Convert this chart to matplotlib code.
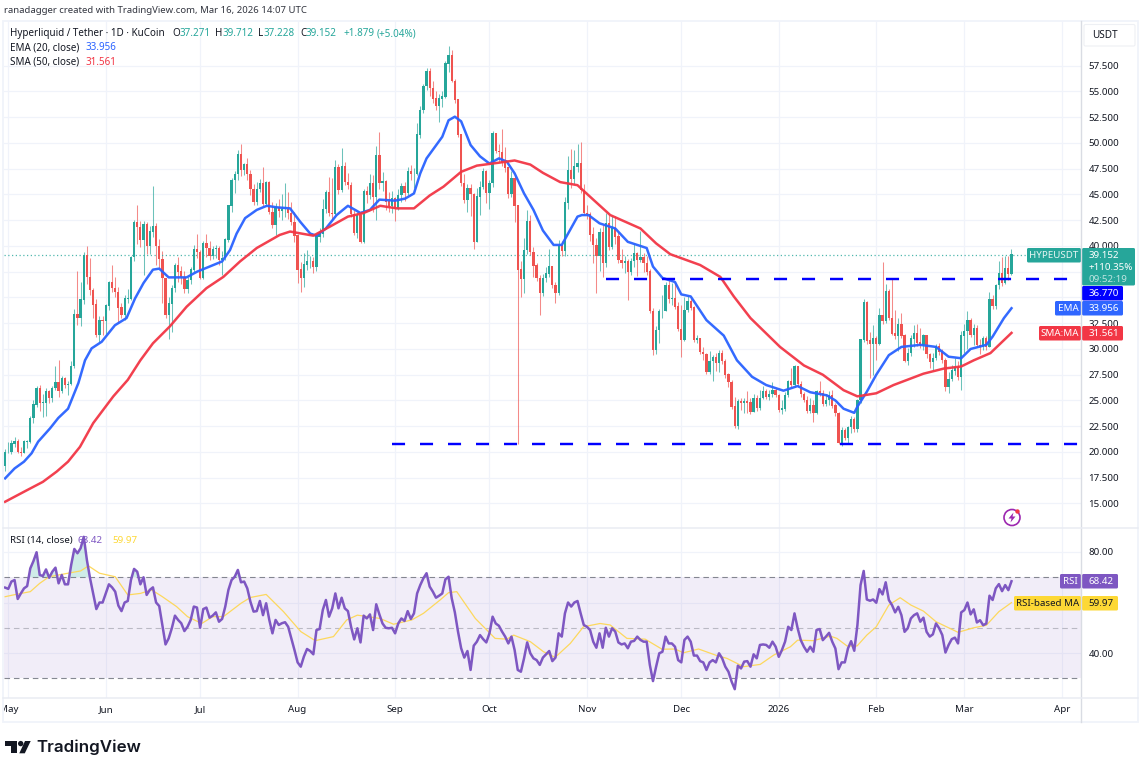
import numpy as np
import pandas as pd
import matplotlib
matplotlib.use("Agg")
import matplotlib.pyplot as plt
from matplotlib.patches import Rectangle, FancyBboxPatch, Polygon, Circle

plt.rcParams['font.family'] = ['Noto Sans', 'DejaVu Sans']

start_date = "2025-04-30"
first_open = 18.6
closes = [20.0,20.0,20.8,21.0,20.0,19.9,21.0,21.0,23.3,24.6,26.2,24.8,24.8,25.9,25.2,26.2,26.8,25.9,27.2,26.5,26.6,28.3,33.4,33.0,34.8,39.1,37.0,35.7,34.3,31.4,32.8,32.7,34.2,36.5,35.9,35.5,34.0,33.3,34.9,34.9,38.9,42.3,41.8,40.6,42.1,40.0,41.4,41.9,40.0,38.7,36.9,33.3,34.4,35.9,38.1,37.5,37.0,35.8,36.7,37.7,39.7,39.4,36.9,40.3,39.8,39.0,39.7,39.8,38.6,38.8,40.6,43.9,46.4,47.0,48.9,47.4,47.9,47.0,45.5,44.3,45.5,46.1,44.1,46.2,43.3,42.0,43.8,43.4,
43.6,43.6,43.2,42.3,41.0,37.7,36.9,38.2,38.5,38.5,38.0,40.9,41.2,43.6,45.2,43.2,43.1,47.6,45.4,47.7,46.2,45.9,43.1,41.3,43.0,40.4,45.3,44.9,46.1,44.8,48.8,46.1,46.3,44.3,43.9,44.6,43.6,44.9,45.8,45.1,47.2,47.0,47.0,50.8,53.2,55.5,57.0,55.3,54.3,53.6,54.3,54.5,57.7,58.5,56.0,54.2,50.8,46.1,44.5,45.6,45.0,40.4,44.8,45.7,47.2,45.1,46.1,50.9,49.2,49.1,48.1,47.6,45.0,46.6,43.9,37.7,36.8,39.6,42.4,39.4,38.1,36.9,35.4,36.9,37.3,38.0,36.2,35.4,40.1,
39.5,44.2,47.3,46.5,47.7,48.0,45.4,43.2,43.1,41.1,40.1,39.0,41.3,38.3,42.2,39.9,41.7,40.9,38.6,38.3,38.5,37.5,38.5,39.3,38.6,38.9,38.3,37.5,33.7,29.9,31.8,33.7,33.7,36.2,34.9,34.9,34.1,31.9,30.9,33.8,34.6,34.0,30.9,31.0,29.7,29.5,27.8,28.8,29.2,28.6,29.6,28.8,27.5,26.8,24.4,22.5,24.9,24.8,24.9,24.8,23.9,25.2,24.3,25.2,25.9,25.3,25.6,26.0,25.5,24.1,24.2,25.5,26.9,26.5,28.3,26.6,25.6,25.0,24.0,24.5,23.8,25.9,25.7,24.7,25.0,25.5,24.5,23.8,20.9,22.1,21.4,22.4,23.2,22.2,25.0,30.9,34.5,30.8,30.5,31.0,30.5,33.3,32.7,35.6,33.0,31.5,31.3,32.4,31.3,28.8,29.6,31.0,31.5,30.6,30.4,31.3,29.5,28.7,29.1,30.3,29.7,28.9,26.3,27.1,27.9,28.2,27.3,31.3,31.7,32.8,31.4,32.0,30.4,30.2,31.0,30.2,34.8,34.2,36.2,37.3,36.4,37.8,37.271,39.152]
highs = [20.3,21.0,21.2,21.5,21.3,20.5,21.2,21.2,23.5,25.0,26.4,26.5,25.6,26.2,26.0,26.4,28.3,28.9,27.4,27.3,26.9,28.8,33.9,37.6,36.5,39.4,40.0,38.8,35.9,34.9,33.2,33.2,34.4,36.6,38.2,37.0,36.0,34.5,35.2,35.8,39.0,42.5,44.0,42.4,42.4,42.3,41.9,45.8,42.2,40.7,39.5,36.8,35.0,36.2,38.3,38.9,38.1,37.6,37.0,38.0,40.1,41.2,39.6,40.5,41.2,40.5,40.0,40.1,40.0,39.5,40.8,44.0,46.6,47.3,49.3,49.9,48.1,48.5,47.4,46.0,46.2,46.5,47.7,46.3,46.3,44.3,44.2,44.6,
45.0,46.1,45.2,44.3,43.3,41.2,38.4,39.3,39.6,39.0,38.9,41.3,41.7,44.6,45.4,46.7,46.6,48.3,48.0,49.5,48.2,47.1,46.2,43.5,43.3,43.4,45.5,45.8,47.0,46.9,49.7,51.1,47.2,46.4,45.2,45.3,44.8,45.5,46.1,46.2,47.7,47.9,47.6,51.9,53.6,55.7,57.3,57.3,56.0,55.0,54.8,55.0,58.0,59.4,59.0,56.2,54.3,50.8,47.0,46.0,46.0,45.1,45.6,46.3,47.6,47.4,46.4,51.2,51.0,49.9,51.4,49.6,47.7,47.3,46.8,44.0,38.5,40.8,43.5,43.0,39.9,38.3,37.2,37.3,38.0,39.7,38.0,36.5,40.6,
40.5,44.8,48.7,49.4,49.3,49.9,50.1,46.0,44.0,43.3,41.8,40.8,41.7,42.0,43.2,43.0,42.9,42.9,41.4,39.7,39.0,38.7,38.8,40.3,39.4,41.5,39.3,39.0,37.8,34.0,32.2,33.9,35.2,36.5,36.7,36.4,36.5,34.6,34.3,35.0,35.2,35.0,34.2,31.4,31.1,30.2,29.6,29.8,29.4,29.6,29.9,29.9,29.0,27.7,27.0,25.3,25.1,25.2,25.2,25.9,25.2,25.6,25.5,26.0,26.4,26.1,26.0,26.8,26.2,25.6,25.0,25.8,27.0,28.2,28.4,28.3,26.9,25.8,25.4,25.2,25.0,26.0,26.9,26.0,25.6,25.9,26.0,24.8,23.9,22.4,22.3,22.5,23.5,23.4,25.1,31.0,34.9,34.7,31.6,32.3,31.3,34.0,38.4,36.3,35.8,36.8,33.8,33.0,33.5,31.5,30.1,31.4,32.3,32.4,32.0,31.5,31.3,29.6,29.6,30.5,30.6,30.0,29.1,27.8,28.4,29.1,28.8,31.7,32.4,33.7,33.0,32.4,32.3,31.0,31.3,31.3,35.5,35.2,36.3,38.5,38.9,39.0,39.0,39.712]
lows = [18.2,19.9,19.8,20.5,19.9,19.6,19.9,20.4,20.9,22.8,24.4,24.0,23.4,23.5,24.8,24.9,26.0,25.3,25.7,26.2,25.5,26.5,28.2,32.3,32.2,34.4,36.3,35.2,33.0,31.2,30.7,31.4,31.5,33.8,35.5,35.0,32.5,33.0,32.8,34.5,34.8,38.5,40.2,39.9,37.2,39.2,39.2,40.9,38.2,37.9,34.5,33.0,31.0,31.6,35.5,36.5,36.3,35.4,35.4,36.3,37.5,38.8,36.8,36.8,38.9,38.6,38.7,38.8,38.2,37.2,38.6,40.4,43.3,45.1,46.4,46.8,46.9,46.4,44.9,44.0,44.0,45.2,43.9,43.9,43.1,41.7,41.1,42.8,
42.5,42.8,42.6,42.0,40.4,36.4,35.5,36.0,37.7,37.9,37.4,37.6,40.4,40.9,43.2,42.9,42.5,43.0,45.0,45.2,45.9,45.5,42.8,41.1,40.8,40.3,40.3,44.2,44.6,43.3,42.5,45.5,45.3,43.5,43.3,43.2,42.4,43.5,44.3,44.4,44.9,46.4,45.6,46.9,50.5,52.9,55.1,54.6,53.9,53.2,52.0,53.5,54.4,56.9,55.9,53.9,50.6,45.8,44.2,43.3,42.9,39.7,40.4,43.0,45.5,44.2,43.6,45.7,49.0,48.2,47.8,47.2,44.7,44.8,42.3,20.82,35.0,35.4,39.2,39.1,37.0,36.6,33.3,35.1,36.5,37.0,35.9,34.5,35.2,
39.0,39.0,43.6,45.6,46.0,47.2,45.1,43.0,42.6,40.5,38.3,35.4,37.6,37.0,38.0,39.6,39.7,40.2,38.3,37.9,37.4,34.8,37.2,38.0,37.1,38.4,37.5,37.2,33.5,29.4,29.5,30.6,33.0,33.7,34.5,34.3,33.9,31.7,29.2,30.8,33.6,33.8,30.7,30.6,29.5,28.9,27.6,27.6,26.9,27.9,27.8,28.5,27.2,26.3,24.2,22.3,22.2,24.1,23.8,23.8,23.7,23.9,24.0,24.1,25.1,25.1,25.0,25.3,25.3,23.9,23.7,24.0,25.3,26.3,26.3,26.3,25.3,24.9,23.8,23.8,22.9,23.7,25.4,24.5,24.5,24.6,24.3,23.5,20.8,20.6,21.2,20.9,21.8,21.9,21.9,24.8,30.7,30.5,27.2,27.5,28.9,30.4,32.4,32.5,32.8,31.4,31.0,29.8,31.1,28.7,28.4,29.3,30.2,30.3,30.1,29.9,29.1,28.2,28.0,28.9,29.4,28.6,25.9,25.7,26.9,27.5,27.0,26.0,29.6,30.0,31.2,30.4,30.2,29.5,29.9,29.9,30.2,33.9,33.9,35.8,36.1,36.3,36.7,37.228]

ema_days = [-1,2,5,7.4,9.5,13.3,15.9,19,22.3,24.4,26.5,29.7,33.9,37.6,40.3,43,46,48,51,56.7,60,64,68,70.5,72.6,75.3,79,82.2,85.4,89.6,92.8,96,98,101,104.4,108,112,115,118,123,126.2,129,131,133,138,140,142,144,147,150,153,156,158.5,161,164,167,170,173.4,176,181,182.4,184.5,188,193,197,203,205,208,212,214,217,222,227.5,231.7,236.5,241,246.5,251,255,260.3,263,265.6,269,270,273,276,280,284,290,295,299,303,306,311,313,316.6,319]
ema_vals = [17.44,18.4,19.06,19.87,21,22.3,23.3,24.2,26.7,28.9,30.06,30.7,32.3,33,34.9,36.4,37.7,37.8,36.95,36.95,37.5,38,38.5,39.6,41.2,42.7,43.5,43.9,43.75,43.65,42.36,41.2,41,41.7,43,43.9,43.2,43.5,44.5,44.4,44.6,45.1,47.05,48.5,50.6,52.2,52.55,52.1,49.8,48.7,48,48.5,48.2,47.05,45.1,43.5,41.5,40.1,40.1,42.85,43,43,42.2,41.7,40.4,39.8,38,36.9,36.5,35.3,35.1,32.8,31.3,28.9,27.3,26.5,25.95,26.4,25.8,25.5,25,24.2,23.8,24.4,25.85,27.5,29.4,30.2,30.4,30.2,29.25,29.1,30,30.4,31.2,33,33.956]
sma_days = [-1,6,11,15.4,19,22.8,27,33.4,38,42,46,51.4,56.7,63,68.4,73.7,79,86.3,89.6,97,102.4,108,113,118.3,123.5,129,134,138.4,144,149,156.4,161,166,170,175.5,181,186,191.4,201,206,210.5,220,226.4,230.7,236,245.4,253,259,265.6,270,276,281.5,291,297.5,303,307,312.3,319]
sma_vals = [15.17,16.3,17.1,18.1,19.06,20.5,22.8,25.4,27,28.9,30.55,32.2,34.1,35.9,37,38.5,39.8,41.07,41.4,41,41.9,42.85,43.2,43.9,43.65,43.65,44.9,45.76,47.2,47.8,48.1,48.3,47.9,47.1,46.2,45.9,44.5,43,41.7,40.25,39.2,38.15,37,35.1,33,30.2,28.4,27.5,26,25.4,25.7,26.5,27.6,28.1,28.3,28.9,29.6,31.561]

rsi_vals = [65.9,65.4,68.3,68.9,61.4,63.6,65.6,66.5,73.5,76.4,79.9,70.9,70.5,73.1,69.8,72.2,73.8,67.6,70.9,67.2,67.2,74.9,81.2,79.5,81.5,86,76.8,69.6,63.6,57.4,60,60,63.6,67.2,66,64.3,58.8,56.6,60,60.6,68.9,73.3,72.2,67.2,70,63,65,66,60,58.6,51.1,43.4,45.8,49.8,54.8,53.1,51.8,48.7,50.4,53.1,58.4,58,50,57.4,58,54,54.8,56.1,52.4,53.5,58.4,65,68.9,70.2,72.9,68,68.3,65.6,60.3,56.4,56.6,60.6,55,59.7,53.1,47.8,53.1,51.1,
51.8,52.2,50.4,45.8,41.2,36.3,34.6,38.6,41.6,40.8,39.5,49.1,49.5,57,61,54.4,57.7,63.6,57.7,61.9,57.7,56.6,50.4,45.4,49.8,44.2,54.8,53.7,55.3,49.1,59.3,55.3,51.7,50,49.8,50,47.8,51.7,53.7,52.7,56.6,53.5,55.7,63.6,66.9,69.6,71.6,66.3,64.3,61.9,62.7,63.6,69.2,70.2,61.7,56.1,48.5,41.9,38.2,40.8,33.3,42.9,44.5,47.1,45.5,44.2,47.8,54.4,51.7,50.8,48.5,46.5,43.8,46.5,41.2,33.3,32.6,37.9,44.2,39.9,37.9,37.2,35.3,38.2,39.5,40.8,36.8,38.2,47.8,
46.5,55.7,60,58.4,60,60.6,55.7,51.1,50.4,49.1,44.5,42.1,47.8,42.1,50,46.5,49.8,48.5,44.2,43.4,43.8,41.9,44.5,44.8,46.5,45.2,44.5,44.5,35.3,28.9,34.6,39.9,40.5,46.5,43.8,43.8,42.5,37.2,36.3,45.2,46.5,44.5,39,39,36.8,36.3,33.3,36.3,37.2,36.3,39.9,37.9,34.6,32.6,28.7,25.7,35,33.9,36.6,36.8,34.6,39.5,37.9,43.2,43.4,43.2,42.1,44.5,42.5,38.5,41.2,44.5,50.4,49.1,55.7,49.8,45.1,42.5,40.5,42.5,40.5,49.1,49.5,45.1,46.5,48,44.5,41.8,33.6,36.3,36.3,41.8,44.7,40.9,51,66.9,72.5,61.2,60.7,61.2,59.9,65.3,63.2,68,61,59,56.1,58.3,55,48.4,49.8,53.7,55,55.7,52.4,54,48.4,46.5,47.4,51.7,49.8,47.1,40.2,43.2,45.5,46.1,43.8,56.1,57,60,55.3,57.3,52.1,53,51,51.7,62.7,61,65.6,67.3,64.5,66.9,64.9,68.42]
rsi_ma_days = [-1,1.6,7,10,13,19,23,25.5,29,34,38,42,45.6,49,53.5,57,61.5,65,68.4,74,77,82,87.5,93,97.6,103.4,107.6,111,118.2,122.5,128.3,132,137.3,140,142.6,148.5,154.8,158.5,160.7,166,170.2,173.9,178.7,182.9,188.2,191.4,196.7,202.5,207.9,212,214.7,219.5,225.3,228.5,233.8,239.1,243.4,248.7,251,256,261.4,263.5,266.7,269.9,273,276,280,283.6,287,291,295,302,307,311,315,319]
rsi_ma_vals = [62.3,63,64.3,67.6,70.2,71.6,72.5,74.5,71.6,70.2,63,63.6,65,62.3,58.4,54.4,51.7,54.4,54.4,59.7,62,63.2,56.4,48.5,44.9,46.5,53.1,55,53.7,51.4,53.1,55.7,61,63.9,64.3,53.7,45.8,45.5,47.1,44.5,40.5,38.3,43.8,50.4,51.7,51.1,45.8,45.5,41.5,41.6,40.1,41.6,39,37.9,34.6,35.5,39.2,42.5,45.1,44.9,46.7,45.8,42.8,42.8,47.1,50.4,59,61.9,59,56.6,52.4,48.2,50,51,56.4,59.97]

price_ticks = [15,17.5,20,22.5,25,27.5,30,32.5,35,37.5,40,42.5,45,47.5,50,52.5,55,57.5]
hidden_price_labels = [35, 37.5]
month_starts = ["2025-05-01","2025-06-01","2025-07-01","2025-08-01","2025-09-01","2025-10-01","2025-11-01","2025-12-01","2026-01-01","2026-02-01","2026-03-01","2026-04-01"]
month_labels = ["May","Jun","Jul","Aug","Sep","Oct","Nov","Dec","2026","Feb","Mar","Apr"]
support_levels = [36.77, 20.82]
support_start = ["2025-11-07", "2025-08-31"]
last_price = 39.152

assert len(closes) == len(highs) == len(lows) == len(rsi_vals), (len(closes), len(highs), len(lows), len(rsi_vals))

W, H = 1144, 770
fig = plt.figure(figsize=(W/100, H/100), dpi=100, facecolor='white')
def pane(x0, y0, x1, y1, **kw):
    return fig.add_axes([x0/W, 1-y1/H, (x1-x0)/W, (y1-y0)/H], **kw)

GRID = '#f0f3fa'
TXT = '#131722'
UP, DN = '#26a69a', '#ef5350'

dates = pd.date_range(start_date, periods=len(closes))
origin = pd.Timestamp("2025-05-01")
xs = np.array((dates - origin).days)
c = np.array(closes); o = np.r_[first_open, c[:-1]]; hi = np.array(highs); lo = np.array(lows)
month_x = [(pd.Timestamp(m) - origin).days for m in month_starts]
xlim = (-1.52, 341.1)

ax = pane(3.5, 21, 1081, 528)
ax.set_xlim(xlim); ax.set_ylim(12.62, 61.84)
ax.set_yticks(price_ticks)
ax.set_yticklabels(["" if t in hidden_price_labels else f"{t:.3f}" for t in price_ticks])
ax.set_xticks(month_x); ax.set_xticklabels([])
ax.yaxis.tick_right()
ax.tick_params(axis='both', length=0); ax.tick_params(axis='y', labelsize=7, pad=5.5, colors=TXT)
ax.grid(True, color=GRID, lw=0.9); ax.set_axisbelow(True)
for s in ax.spines.values(): s.set_visible(False)

colors = np.where(c >= o, UP, DN)
ax.vlines(xs, lo, hi, colors=colors, lw=0.75, alpha=0.68, zorder=2)
ax.bar(xs, np.abs(c-o)+0.03, bottom=np.minimum(o, c), width=0.72, color=colors, lw=0, zorder=3)
ax.plot(ema_days, ema_vals, color='#2962ff', lw=1.8, zorder=4, solid_joinstyle='round', alpha=.95)
ax.plot(sma_days, sma_vals, color='#f23645', lw=1.8, zorder=4, solid_joinstyle='round', alpha=.95)
ax.axhline(last_price, color=UP, lw=0.9, ls=(0, (1, 2)), zorder=2, alpha=.8)
lw_dash = 1.75
for lvl, st in zip(support_levels, support_start):
    ax.plot([(pd.Timestamp(st) - origin).days, xlim[1]], [lvl, lvl], color='#0000ff', lw=lw_dash,
            ls=(0, (9.4/lw_dash, 10.76/lw_dash)), dash_capstyle='butt', zorder=5)

r = pane(3.5, 528, 1081, 698)
r.set_xlim(xlim); r.set_ylim(22.2, 89.5)
r.set_yticks([40, 80]); r.set_yticklabels(["40.00", "80.00"])
r.set_xticks(month_x); r.set_xticklabels([])
r.yaxis.tick_right()
r.tick_params(axis='both', length=0); r.tick_params(axis='y', labelsize=7, pad=5.5, colors=TXT)
r.grid(True, color=GRID, lw=0.9); r.set_axisbelow(True)
r.axhline(60, color=GRID, lw=0.9, zorder=0)
for s in r.spines.values(): s.set_visible(False)
r.axhspan(30, 70, color='#7e57c2', alpha=0.1, lw=0, zorder=1)
for lv, a in ((70, .9), (50, .45), (30, .9)):
    r.axhline(lv, color='#787b86', lw=0.8, ls=(0, (5, 3.5)), alpha=a, zorder=2)
rv = np.array(rsi_vals)
r.fill_between(xs, 70, rv, where=rv > 70, interpolate=True, color=UP, alpha=0.22, lw=0, zorder=2)
r.plot(rsi_ma_days, rsi_ma_vals, color='#fdd85d', lw=0.9, zorder=3)
r.text(0.54, 84.4, "RSI (14, close)", fontsize=7, color=TXT, va='center', zorder=2.5)
r.text(21.9, 84.4, "68.42", fontsize=7, color='#7e57c2', va='center', zorder=2.5)
r.text(33.0, 84.4, "59.97", fontsize=7, color='#fdd835', va='center', zorder=2.5)
r.plot(xs, rv, color='#7e57c2', lw=1.8, zorder=4, solid_joinstyle='round')

tm = pane(3.5, 698, 1081, 722)
tm.set_xlim(xlim); tm.set_ylim(0, 1)
tm.axis('off')
for mx, lab in zip(month_x, month_labels):
    tm.text(mx, 0.5, lab, ha='center', va='center', fontsize=7, color=TXT,
            fontweight='bold' if lab == '2026' else 'normal', clip_on=True)

ov = fig.add_axes([0, 0, 1, 1], zorder=10)
ov.set_xlim(0, W); ov.set_ylim(H, 0); ov.axis('off'); ov.patch.set_alpha(0)

def T(x, y, s, color=TXT, size=7, ha='left', weight='normal', **kw):
    return ov.text(x, y, s, color=color, fontsize=size, ha=ha, va='center', fontweight=weight, **kw)
def box(x0, y0, x1, y1, color, ec='none'):
    ov.add_patch(FancyBboxPatch((x0+1, y0+1), x1-x0-2, y1-y0-2, boxstyle="round,pad=1,rounding_size=1.5",
                                fc=color, ec=ec, lw=0.8 if ec != 'none' else 0, mutation_aspect=1))

# frame
frame = '#e9ecf3'
ov.add_patch(Rectangle((3, 20.5), 1134.5, 701.5, fc='none', ec=GRID, lw=1.3))
ov.plot([1081, 1081], [20.5, 722], color='#d9dce3', lw=1)
ov.plot([3, 1137.5], [528, 528], color=frame, lw=1.1)
ov.plot([3, 1137.5], [698, 698], color=frame, lw=1.1)

# header text
T(4, 10.5, "ranadagger created with TradingView.com, Mar 16, 2026 14:07 UTC", size=6.9, color='#333640')
T(10, 33.5, "Hyperliquid / Tether · 1D · KuCoin", size=7.1)
for x, s, col in [(172, "O", TXT), (179.5, "37.271", UP), (215, "H", TXT), (222.5, "39.712", UP), (258, "L", TXT),
                  (263, "37.228", UP), (300, "C", TXT), (305.5, "39.152", UP), (343, "+1.879", UP), (377, "(+5.04%)", UP)]:
    T(x, 33.5, s, color=col, size=7.1)
T(10, 48, "EMA (20, close)", size=7.1); T(86, 48, "33.956", color='#2962ff', size=7.1)
T(10, 62.5, "SMA (50, close)", size=7.1); T(86, 62.5, "31.561", color='#f23645', size=7.1)

# currency button
box(1084, 24.5, 1135, 46, 'white', ec='#eef0f4')
T(1092, 35.5, "USDT", size=7.2)

# last value labels
box(1027, 248, 1081, 262.5, UP); T(1054, 255.3, "HYPEUSDT", color='#e6f5f3', ha='center')
box(1082, 248, 1135, 285.5, UP)
T(1088.5, 255.3, "39.152", color='white'); T(1088.5, 267.2, "+110.35%", color='white'); T(1088.5, 279, "09:52:19", color='#bfe5e1')
box(1082, 286, 1123, 300.5, '#0000ff'); T(1088.5, 293.3, "36.770", color='white')
box(1055, 301, 1081, 315.5, '#2f66ff'); T(1068, 308.3, "EMA", color='white', ha='center')
box(1082, 301, 1123, 315.5, '#2f66ff'); T(1088.5, 308.3, "33.956", color='white')
box(1039, 326, 1081, 340.5, '#f23645'); T(1060, 333.3, "SMA:MA", color='white', ha='center')
box(1082, 326, 1123, 340.5, '#f23645'); T(1088.5, 333.3, "31.561", color='white')
box(1060, 574, 1081, 588.5, '#7e57c2'); T(1070.5, 581.2, "RSI", color='white', ha='center')
box(1082, 574, 1118, 588.5, '#7e57c2'); T(1088.5, 581.2, "68.42", color='white')
box(1014, 596, 1081, 610.5, '#fdd835'); T(1047.5, 603.2, "RSI-based MA", color=TXT, ha='center')
box(1082, 596, 1118, 610.5, '#fdd835'); T(1088.5, 603.2, "59.97", color=TXT)

# lightning badge
ov.add_patch(Circle((1012, 517.5), 8, fc='white', ec='#9c27b0', lw=1.2))
ov.add_patch(Polygon([(1013.5, 512.5), (1008.5, 518.5), (1011.5, 518.5), (1010.5, 522.5), (1015.5, 516.5), (1012.5, 516.5)],
                     closed=True, fc='#9c27b0', ec='none'))
ov.add_patch(Circle((1017.5, 511.5), 2.2, fc='#f23645', ec='none'))

# watermark logo
ov.add_patch(Polygon([(5, 741), (16.7, 741), (16.7, 753.3), (10.7, 753.3), (10.7, 746.3), (5, 746.3)], closed=True, fc='#131722', ec='none'))
ov.add_patch(Circle((20.7, 743.6), 2.7, fc='#131722', ec='none'))
ov.add_patch(Polygon([(19.3, 753.3), (25, 741), (30.7, 741), (24.8, 753.3)], closed=True, fc='#131722', ec='none'))
ov.text(36, 747.5, "TradingView", fontsize=12.2, color='#131722', va='center', ha='left', family=['Inter', 'DejaVu Sans'], fontweight='semibold')

fig.savefig("out.png", dpi=100, facecolor='white')
